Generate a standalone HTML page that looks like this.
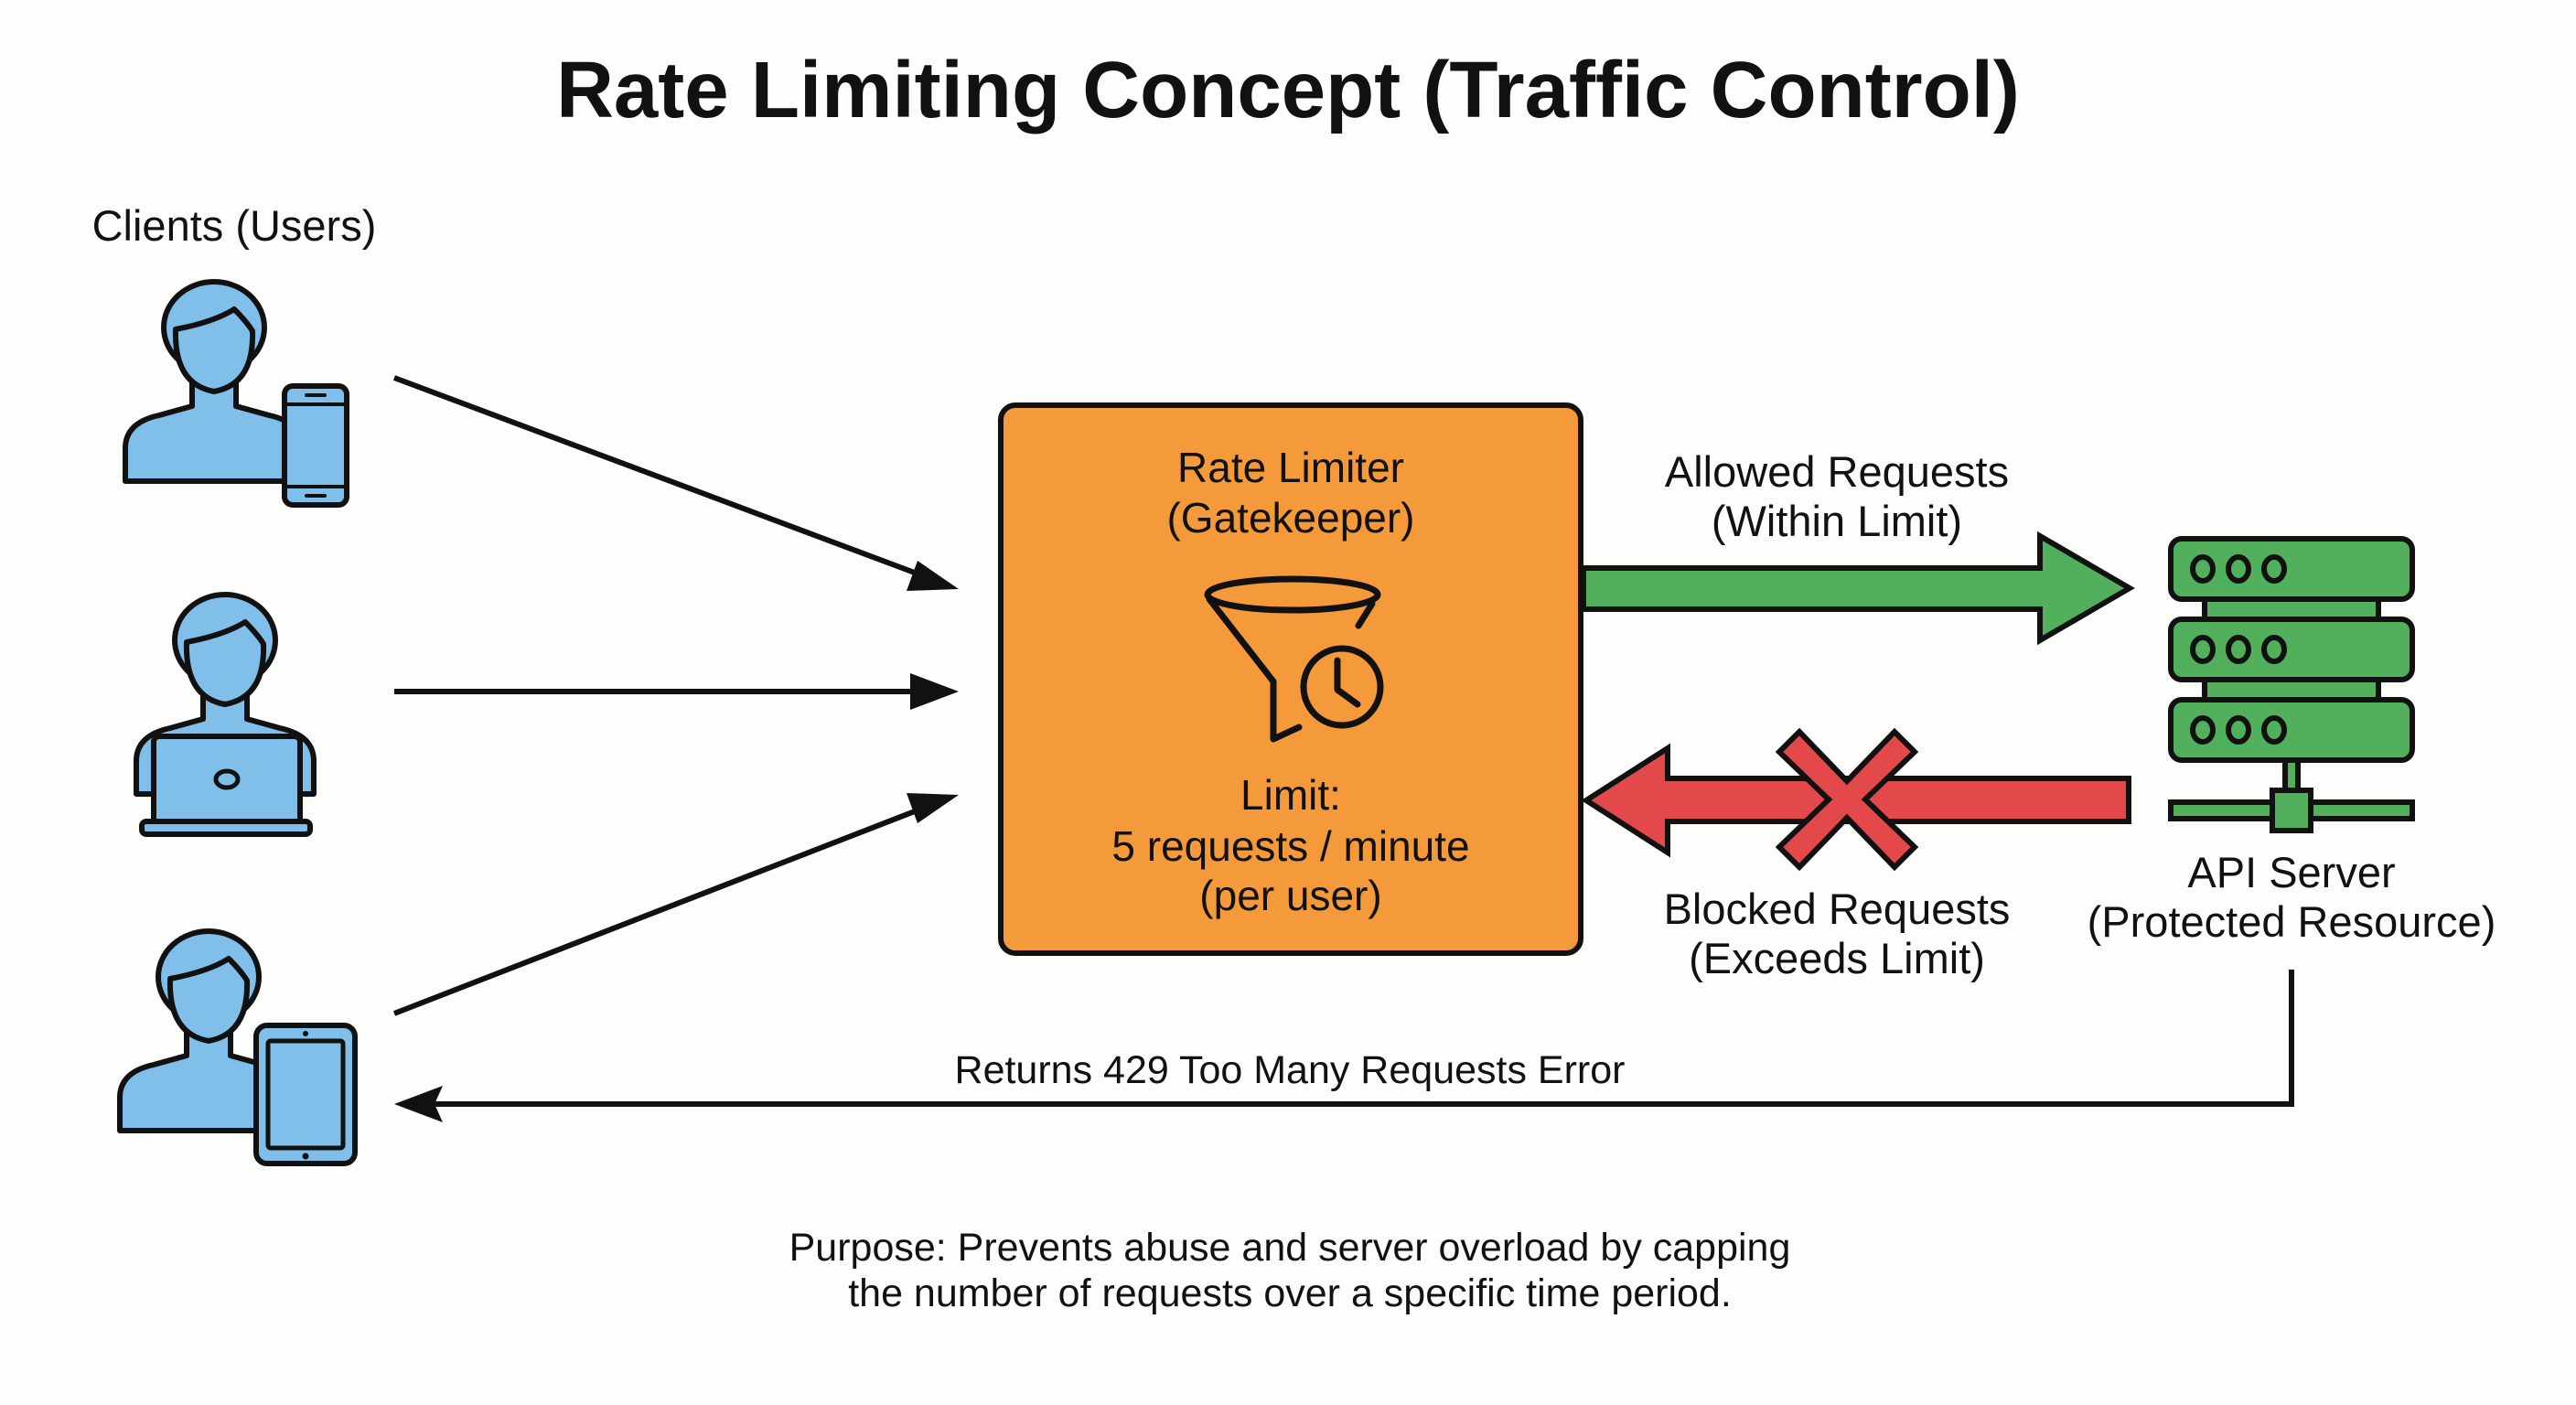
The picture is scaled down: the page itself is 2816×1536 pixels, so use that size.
<!DOCTYPE html>
<html><head><meta charset="utf-8"><style>
html,body{margin:0;padding:0;background:#fdfdfc;}
svg{display:block;}
text{font-family:"Liberation Sans",sans-serif;fill:#111;}
</style></head><body>
<svg width="2816" height="1536" viewBox="0 0 2816 1536" xmlns="http://www.w3.org/2000/svg">
<defs>
<g id="person">
  <path d="M -97 158 L -97 122 Q -97 94 -60 86 L -24 76 L -24 50 L 24 50 L 24 76 L 60 86 Q 97 94 97 122 L 97 158 Z" fill="#7fbfe9" stroke="#111" stroke-width="6" stroke-linejoin="round"/>
  <ellipse cx="0" cy="-10" rx="55" ry="50" fill="#7fbfe9" stroke="#111" stroke-width="6"/>
  <path d="M -42 -8 Q 0 -16 22 -30 Q 36 -16 42 -6 Q 44 52 0 60 Q -44 52 -42 -8 Z" fill="#7fbfe9" stroke="#111" stroke-width="6" stroke-linejoin="round"/>
</g>
</defs>
<rect width="2816" height="1536" fill="#fdfdfc"/>

<text x="1408" y="128" text-anchor="middle" font-size="87" font-weight="bold">Rate Limiting Concept (Traffic Control)</text>
<text x="256" y="263" text-anchor="middle" font-size="47">Clients (Users)</text>

<use href="#person" x="234" y="368"/>
<rect x="311" y="422" width="68" height="130" rx="9" fill="#7fbfe9" stroke="#111" stroke-width="6"/>
<line x1="314" y1="442" x2="376" y2="442" stroke="#111" stroke-width="4"/>
<line x1="314" y1="532" x2="376" y2="532" stroke="#111" stroke-width="4"/>
<line x1="335" y1="432" x2="355" y2="432" stroke="#111" stroke-width="4" stroke-linecap="round"/>
<line x1="335" y1="542" x2="355" y2="542" stroke="#111" stroke-width="4" stroke-linecap="round"/>

<use href="#person" x="246" y="710"/>
<rect x="168" y="805" width="160" height="100" rx="6" fill="#7fbfe9" stroke="#111" stroke-width="6"/>
<rect x="155" y="898" width="184" height="14" rx="5" fill="#7fbfe9" stroke="#111" stroke-width="6"/>
<ellipse cx="248" cy="852" rx="12" ry="9" fill="none" stroke="#111" stroke-width="5"/>

<use href="#person" x="228" y="1078"/>
<rect x="280" y="1121" width="108" height="151" rx="12" fill="#7fbfe9" stroke="#111" stroke-width="6"/>
<rect x="293" y="1138" width="82" height="117" rx="3" fill="#7fbfe9" stroke="#111" stroke-width="5"/>
<circle cx="334" cy="1130" r="3" fill="#111"/>
<circle cx="334" cy="1264" r="3.5" fill="#111"/>

<g stroke="#111" stroke-width="6" fill="#111">
<line x1="431" y1="413" x2="1005" y2="628"/>
<polygon points="1048,644 991,646 1003,613" stroke="none"/>
<line x1="431" y1="756" x2="1000" y2="756"/>
<polygon points="1048,756 995,736 995,776" stroke="none"/>
<line x1="431" y1="1108" x2="1005" y2="885"/>
<polygon points="1048,869 991,867 1003,900" stroke="none"/>
</g>

<rect x="1094" y="443" width="634" height="599" rx="16" fill="#f49a3a" stroke="#111" stroke-width="6"/>
<text x="1411" y="527" text-anchor="middle" font-size="46">Rate Limiter</text>
<text x="1411" y="582" text-anchor="middle" font-size="46">(Gatekeeper)</text>
<g fill="none" stroke="#111" stroke-width="7" stroke-linejoin="round" stroke-linecap="round">
<ellipse cx="1413" cy="650" rx="93" ry="17"/>
<path d="M 1322 655 L 1392 745 L 1392 808 L 1420 795"/>
<path d="M 1500 660 L 1485 684"/>
<circle cx="1467" cy="751" r="42"/>
<path d="M 1462 722 L 1462 754 L 1484 770"/>
</g>
<text x="1411" y="885" text-anchor="middle" font-size="46">Limit:</text>
<text x="1411" y="941" text-anchor="middle" font-size="46">5 requests / minute</text>
<text x="1411" y="995" text-anchor="middle" font-size="46">(per user)</text>

<polygon points="1731,621 2230,621 2230,586 2328,643 2230,700 2230,666 1731,666" fill="#52b05c" stroke="#111" stroke-width="6"/>
<text x="2008" y="532" text-anchor="middle" font-size="47">Allowed Requests</text>
<text x="2008" y="586" text-anchor="middle" font-size="47">(Within Limit)</text>

<polygon points="2327,851 1823,851 1823,818 1734,875 1823,932 1823,898 2327,898" fill="#e3484a" stroke="#111" stroke-width="6"/>
<g transform="translate(2019,874)">
<path d="M -52 -74 L 0 -20 L 52 -74 L 74 -52 L 20 0 L 74 52 L 52 74 L 0 20 L -52 74 L -74 52 L -20 0 L -74 -52 Z" fill="#e3484a" stroke="#111" stroke-width="6"/>
</g>
<text x="2008" y="1010" text-anchor="middle" font-size="47">Blocked Requests</text>
<text x="2008" y="1064" text-anchor="middle" font-size="47">(Exceeds Limit)</text>

<g fill="#52b05c" stroke="#111" stroke-width="6">
<rect x="2410" y="652" width="190" height="30"/>
<rect x="2410" y="740" width="190" height="30"/>
<rect x="2373" y="589" width="264" height="66" rx="12"/>
<rect x="2373" y="677" width="264" height="66" rx="12"/>
<rect x="2373" y="765" width="264" height="66" rx="12"/>
<rect x="2498" y="831" width="14" height="40"/>
<rect x="2373" y="877" width="264" height="18"/>
<rect x="2484" y="864" width="42" height="44"/>
</g>
<g fill="none" stroke="#111" stroke-width="6">
<ellipse cx="2408" cy="622" rx="11" ry="13"/><ellipse cx="2447" cy="622" rx="11" ry="13"/><ellipse cx="2486" cy="622" rx="11" ry="13"/>
<ellipse cx="2408" cy="710" rx="11" ry="13"/><ellipse cx="2447" cy="710" rx="11" ry="13"/><ellipse cx="2486" cy="710" rx="11" ry="13"/>
<ellipse cx="2408" cy="798" rx="11" ry="13"/><ellipse cx="2447" cy="798" rx="11" ry="13"/><ellipse cx="2486" cy="798" rx="11" ry="13"/>
</g>
<text x="2505" y="970" text-anchor="middle" font-size="47">API Server</text>
<text x="2505" y="1024" text-anchor="middle" font-size="47">(Protected Resource)</text>

<polyline points="2505,1060 2505,1207 475,1207" fill="none" stroke="#111" stroke-width="6"/>
<polygon points="431,1207 484,1187 475,1207 484,1227" fill="#111"/>
<text x="1410" y="1184" text-anchor="middle" font-size="43">Returns 429 Too Many Requests Error</text>

<text x="1410" y="1378" text-anchor="middle" font-size="43">Purpose: Prevents abuse and server overload by capping</text>
<text x="1410" y="1428" text-anchor="middle" font-size="43">the number of requests over a specific time period.</text>
</svg>
</body></html>
